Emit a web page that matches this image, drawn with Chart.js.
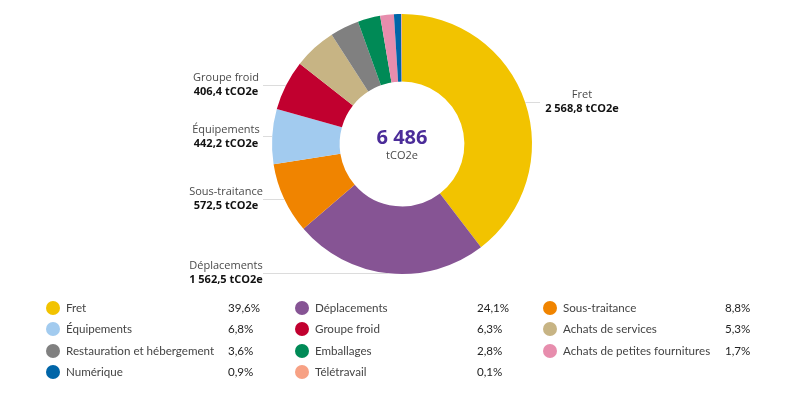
<!DOCTYPE html>
<html>
<head>
<meta charset="utf-8">
<script src="https://cdn.jsdelivr.net/npm/chart.js@4.4.1/dist/chart.umd.min.js"></script>
<style>
  html, body { margin: 0; padding: 0; background: #ffffff; }
  #wrap { position: relative; width: 799px; height: 399px; }
</style>
</head>
<body>
<div id="wrap"><canvas id="c" width="799" height="399"></canvas></div>
<script>
const categories = ["Fret", "Déplacements", "Sous-traitance", "Équipements", "Groupe froid", "Achats de services", "Restauration et hébergement", "Emballages", "Achats de petites fournitures", "Numérique", "Télétravail"];
const values = [2568.8, 1562.5, 572.5, 442.2, 406.4, 343.8, 233.5, 181.6, 110.3, 58.4, 6.0];
const colors = ["#F2C300", "#865494", "#F08400", "#A2CBEF", "#C1002F", "#C7B484", "#808080", "#008A56", "#E78DAD", "#0065A8", "#F7A184"];
const calloutCategories = ["Fret", "Déplacements", "Sous-traitance", "Équipements", "Groupe froid"];
const unit = "tCO2e";

const total = values.reduce((a, b) => a + b, 0);

function fmtNum(v, dec) {
  const s = v.toFixed(dec);
  let [ip, dp] = s.split(".");
  ip = ip.replace(/\B(?=(\d{3})+(?!\d))/g, " ");
  return dp ? ip + "," + dp : ip;
}

const calloutPlugin = {
  id: "callouts",
  afterDatasetsDraw(chart) {
    const ctx = chart.ctx;
    const meta = chart.getDatasetMeta(0);
    ctx.save();
    meta.data.forEach((arc, i) => {
      if (!calloutCategories.includes(categories[i])) return;
      const mid = (arc.startAngle + arc.endAngle) / 2;
      const px = arc.x + Math.cos(mid) * arc.outerRadius;
      const py = arc.y + Math.sin(mid) * arc.outerRadius;
      const right = Math.cos(mid) > 0;
      const lineEnd = right ? arc.x + 138 : arc.x - 139;
      const labelX = right ? arc.x + 180 : arc.x - 176;
      ctx.strokeStyle = "#dcdcdc";
      ctx.lineWidth = 1;
      ctx.beginPath();
      ctx.moveTo(px, Math.round(py) + 0.5);
      ctx.lineTo(lineEnd, Math.round(py) + 0.5);
      ctx.stroke();
      ctx.textAlign = "center";
      ctx.textBaseline = "middle";
      ctx.fillStyle = "#4a4a4a";
      ctx.font = "11px 'Open Sans'";
      ctx.fillText(categories[i], labelX, py - 7);
      ctx.fillStyle = "#111111";
      ctx.font = "bold 11px 'Open Sans'";
      ctx.fillText(fmtNum(values[i], 1) + " " + unit, labelX, py + 7);
    });
    // center text
    const a0 = meta.data[0];
    ctx.textAlign = "center";
    ctx.textBaseline = "middle";
    ctx.fillStyle = "#4B2C99";
    ctx.font = "bold 20px 'Open Sans'";
    ctx.fillText(fmtNum(Math.round(total), 0), a0.x, a0.y - 6);
    ctx.fillStyle = "#4a4a4a";
    ctx.font = "11px 'Open Sans'";
    ctx.fillText(unit, a0.x, a0.y + 12);
    ctx.restore();
  }
};

const legendPlugin = {
  id: "gridLegend",
  afterDraw(chart) {
    const ctx = chart.ctx;
    const colDot = [53, 302, 550];
    const colPct = [228, 477, 725];
    const rowY = [308, 329, 351, 372];
    ctx.save();
    categories.forEach((cat, i) => {
      const col = i % 3, row = Math.floor(i / 3);
      const y = rowY[row];
      ctx.fillStyle = colors[i];
      ctx.beginPath();
      ctx.arc(colDot[col], y, 7, 0, Math.PI * 2);
      ctx.fill();
      ctx.textAlign = "left";
      ctx.textBaseline = "middle";
      ctx.fillStyle = "#444444";
      ctx.font = "11.6px Lato";
      ctx.fillText(cat, colDot[col] + 13, y);
      ctx.fillStyle = "#222222";
      ctx.fillText(fmtNum(values[i] / total * 100, 1) + "%", colPct[col], y);
    });
    ctx.restore();
  }
};

new Chart(document.getElementById("c"), {
  type: "doughnut",
  data: {
    labels: categories,
    datasets: [{
      data: values,
      backgroundColor: colors,
      borderWidth: 0,
      hoverOffset: 0
    }]
  },
  options: {
    responsive: false,
    animation: false,
    cutout: "48%",
    layout: { padding: { left: 5, right: 0, top: 14, bottom: 125 } },
    plugins: {
      legend: { display: false },
      tooltip: { enabled: false }
    }
  },
  plugins: [calloutPlugin, legendPlugin]
});
</script>
</body>
</html>
